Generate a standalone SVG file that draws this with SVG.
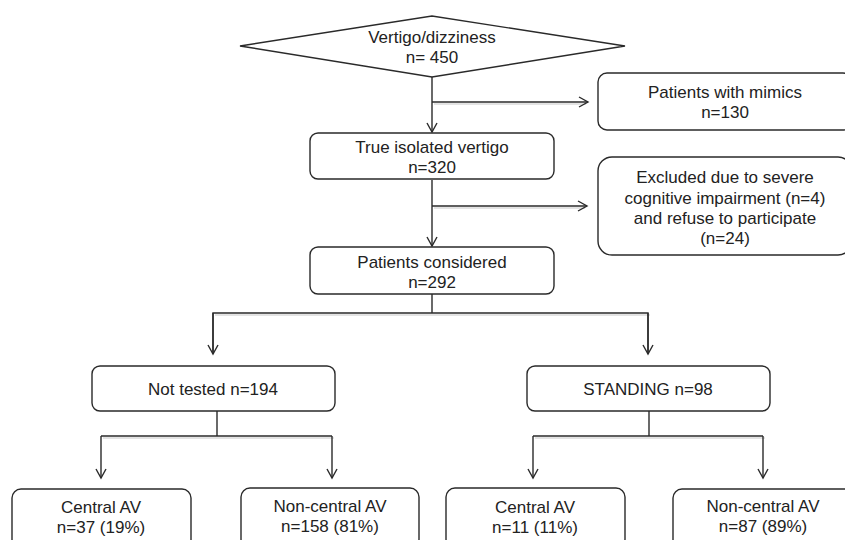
<svg xmlns="http://www.w3.org/2000/svg" width="845" height="540" viewBox="0 0 845 540">
<style>
.box{fill:#fff;stroke:#2a2a2a;stroke-width:1.4}
.t{font-family:"Liberation Sans",Arial,sans-serif;font-size:17px;fill:#222;text-anchor:middle}
.c{fill:none;stroke:#2a2a2a;stroke-width:1.4}
.sh{fill:none;stroke:#c8c8c8;stroke-width:1.2}
</style>
<defs>
<marker id="arr" markerUnits="userSpaceOnUse" markerWidth="14" markerHeight="14" refX="10" refY="6" orient="auto">
<path d="M1,1 L10,6 L1,11" fill="none" stroke="#2a2a2a" stroke-width="1.4"/>
</marker>
</defs>
<rect width="845" height="540" fill="#fff"/>
<g id="connectors">
<path class="sh" d="M434,104 H586"/>
<path class="sh" d="M434,208 H585"/>
<path class="sh" d="M215,315 H650"/>
<path class="sh" d="M103,438 H334"/>
<path class="sh" d="M535,438 H765"/>
<path class="c" d="M432,77 V132" marker-end="url(#arr)"/>
<path class="c" d="M432,102 H588" marker-end="url(#arr)"/>
<path class="c" d="M432,180 V246" marker-end="url(#arr)"/>
<path class="c" d="M432,206 H587" marker-end="url(#arr)"/>
<path class="c" d="M432,294 V313"/>
<path class="c" d="M213,354 V313 H648 V354" />
<path class="c" d="M213,313 V354" marker-end="url(#arr)"/>
<path class="c" d="M648,313 V354" marker-end="url(#arr)"/>
<path class="c" d="M217,411 V436"/>
<path class="c" d="M101,436 H332"/>
<path class="c" d="M101,436 V478" marker-end="url(#arr)"/>
<path class="c" d="M332,436 V478" marker-end="url(#arr)"/>
<path class="c" d="M649,411 V436"/>
<path class="c" d="M533,436 H763"/>
<path class="c" d="M533,436 V478" marker-end="url(#arr)"/>
<path class="c" d="M763,436 V478" marker-end="url(#arr)"/>
</g>
<g id="vertigo">
<polygon class="box" points="240,46 432,16 625,46 432,77"/>
<text class="t" x="432" y="43">Vertigo/dizziness</text>
<text class="t" x="432" y="63">n= 450</text>
</g>
<g id="mimics">
<rect class="box" x="598" y="73" width="254" height="57" rx="9"/>
<text class="t" x="725" y="98">Patients with mimics</text>
<text class="t" x="725" y="118">n=130</text>
</g>
<g id="true-isolated">
<rect class="box" x="310" y="133" width="244" height="46" rx="8"/>
<text class="t" x="432" y="153">True isolated vertigo</text>
<text class="t" x="432" y="173">n=320</text>
</g>
<g id="excluded">
<rect class="box" x="598" y="157" width="254" height="98" rx="14"/>
<text class="t" x="725" y="183">Excluded due to severe</text>
<text class="t" x="725" y="204">cognitive impairment (n=4)</text>
<text class="t" x="725" y="224">and refuse to participate</text>
<text class="t" x="725" y="244">(n=24)</text>
</g>
<g id="considered">
<rect class="box" x="310" y="247" width="244" height="47" rx="8"/>
<text class="t" x="432" y="268">Patients considered</text>
<text class="t" x="432" y="288">n=292</text>
</g>
<g id="not-tested">
<rect class="box" x="92" y="366" width="243" height="45" rx="8"/>
<text class="t" x="213" y="395">Not tested n=194</text>
</g>
<g id="standing">
<rect class="box" x="527" y="366" width="243" height="45" rx="8"/>
<text class="t" x="648" y="395">STANDING n=98</text>
</g>
<g id="central-nt">
<rect class="box" x="12" y="489" width="179" height="60" rx="9"/>
<text class="t" x="101" y="513">Central AV</text>
<text class="t" x="101" y="533">n=37 (19%)</text>
</g>
<g id="noncentral-nt">
<rect class="box" x="241" y="488" width="178" height="60" rx="9"/>
<text class="t" x="330" y="512">Non-central AV</text>
<text class="t" x="330" y="532">n=158 (81%)</text>
</g>
<g id="central-st">
<rect class="box" x="446" y="488" width="179" height="60" rx="9"/>
<text class="t" x="535" y="513">Central AV</text>
<text class="t" x="535" y="533">n=11 (11%)</text>
</g>
<g id="noncentral-st">
<rect class="box" x="673" y="489" width="180" height="60" rx="9"/>
<text class="t" x="763" y="512">Non-central AV</text>
<text class="t" x="763" y="532">n=87 (89%)</text>
</g>
</svg>
